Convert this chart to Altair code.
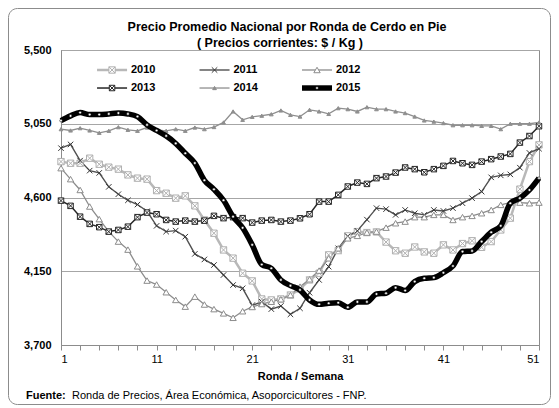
import altair as alt
import pandas as pd

weeks = list(range(1, 52))
years = ["2010", "2011", "2012", "2013", "2014", "2015"]

p2010 = [4819, 4809, 4809, 4840, 4803, 4785, 4773, 4738, 4718, 4712,
         4642, 4626, 4596, 4610, 4549, 4463, 4382, 4280, 4230, 4138,
         4091, 3981, 3975, 3981, 4005, 4042, 4097, 4138, 4250, 4276,
         4366, 4392, 4386, 4390, 4328, 4275, 4260, 4298, 4268, 4260,
         4311, 4280, 4319, 4336, 4296, 4331, 4402, 4474, 4651, 4819, 4921]
p2011 = [4901, 4924, 4825, 4764, 4750, 4665, 4620, 4583, 4557, 4516,
         4427, 4392, 4398, 4361, 4256, 4222, 4188, 4127, 4066, 4046,
         3942, 3964, 3919, 3938, 3887, 3924, 4019, 4097, 4178, 4290,
         4363, 4397, 4465, 4535, 4529, 4494, 4524, 4504, 4494, 4524,
         4518, 4535, 4565, 4596, 4636, 4723, 4735, 4741, 4782, 4872, 4898]
p2012 = [4779, 4712, 4646, 4545, 4468, 4392, 4331, 4282, 4180, 4093,
         4069, 4022, 3975, 3934, 3995, 3947, 3919, 3893, 3866, 3906,
         3932, 3950, 3964, 3979, 4005, 4056, 4101, 4154, 4229, 4290,
         4351, 4366, 4386, 4392, 4416, 4443, 4453, 4480, 4480, 4494,
         4494, 4463, 4480, 4488, 4504, 4524, 4555, 4569, 4569, 4565, 4569]
p2013 = [4581, 4549, 4483, 4439, 4419, 4392, 4402, 4422, 4480, 4508,
         4498, 4463, 4453, 4459, 4453, 4459, 4488, 4474, 4480, 4474,
         4447, 4459, 4463, 4453, 4459, 4473, 4498, 4575, 4575, 4616,
         4667, 4691, 4683, 4718, 4728, 4752, 4783, 4773, 4754, 4773,
         4793, 4823, 4809, 4799, 4819, 4834, 4850, 4866, 4935, 4975, 5035]
p2014 = [5017, 5009, 5023, 5009, 4995, 5007, 5029, 5013, 5007, 5027,
         5013, 5007, 5017, 5007, 5027, 5017, 5030, 5058, 5125, 5074,
         5092, 5099, 5108, 5131, 5104, 5094, 5135, 5125, 5110, 5145,
         5139, 5125, 5151, 5139, 5139, 5125, 5115, 5094, 5070, 5063,
         5054, 5041, 5041, 5041, 5037, 5037, 5017, 5050, 5050, 5050, 5058]
p2015 = [5069, 5098, 5118, 5106, 5106, 5110, 5115, 5110, 5094, 5043,
         5009, 4976, 4930, 4870, 4810, 4705, 4650, 4583, 4483, 4415,
         4311, 4191, 4168, 4097, 4062, 4036, 3975, 3948, 3955, 3958,
         3930, 3963, 3963, 4011, 4016, 4050, 4032, 4087, 4107, 4111,
         4141, 4182, 4270, 4274, 4331, 4388, 4427, 4565, 4596, 4646, 4718]

y_ticks = [3700, 4150, 4600, 5050, 5500]
x_label_weeks = [1, 11, 21, 31, 41, 51]

title_lines = ["Precio Promedio Nacional por Ronda de Cerdo en Pie",
               "( Precios corrientes: $ / Kg )"]
x_title = "Ronda / Semana"
source_bold = "Fuente:"
source_text = "Ronda de Precios, Área Económica, Asoporcicultores - FNP."

series = [p2010, p2011, p2012, p2013, p2014, p2015]
rows = []
for yr, vals in zip(years, series):
    for w, v in zip(weeks, vals):
        rows.append({"semana": w, "anio": yr, "precio": v})
df = pd.DataFrame(rows)
legend_df = pd.DataFrame({"anio": years, "idx": list(range(len(years)))})

FONT = "Liberation Sans"
line_colors = ["#b8b8b8", "#505050", "#8c8c8c", "#262626", "#8f8f8f", "#000000"]
line_widths = [2.5, 1.4, 1.3, 1.5, 1.3, 5.5]
sqx = "M-1,-1L1,-1L1,1L-1,1Z M-1,-1L1,1 M1,-1L-1,1"
xmark = "M-1,-1L1,1 M1,-1L-1,1"
shapes = [sqx, xmark, "triangle-up", sqx, "triangle-up", "circle"]
fills = ["#ffffff", "#505050", "#ffffff", "#ffffff", "#8f8f8f", "#ffffff"]
strokes = ["#b0b0b0", "#383838", "#8c8c8c", "#262626", "#8f8f8f", "#000000"]
sizes = [40, 30, 40, 30, 14, 7]

x_scale = alt.Scale(domain=[1, 51], nice=False, zero=False)
y_scale = alt.Scale(domain=[3700, 5500], nice=False, zero=False)
x_axis = alt.Axis(values=list(range(1, 52, 2)),
                  labelExpr="indexof([1,11,21,31,41,51], datum.value) >= 0 ? datum.label : ''",
                  title=x_title, grid=False, tickSize=5,
                  labelPadding=3, titlePadding=6)
y_axis = alt.Axis(values=y_ticks, format=",.0f", title=None,
                  ticks=False, tickSize=0, labelPadding=10,
                  labelFontWeight="bold")


def X(field):
    return alt.X(field, type="quantitative", scale=x_scale, axis=x_axis)


def Y(field):
    return alt.Y(field, type="quantitative", scale=y_scale, axis=y_axis)


color_enc = alt.Color("anio:N", scale=alt.Scale(domain=years, range=line_colors), legend=None)
sw_enc = alt.StrokeWidth("anio:N", scale=alt.Scale(type="ordinal", domain=years, range=line_widths), legend=None)


def point_enc(x, y):
    return dict(
        x=x, y=y,
        shape=alt.Shape("anio:N", scale=alt.Scale(domain=years, range=shapes), legend=None),
        fill=alt.Fill("anio:N", scale=alt.Scale(domain=years, range=fills), legend=None),
        stroke=alt.Stroke("anio:N", scale=alt.Scale(domain=years, range=strokes), legend=None),
        size=alt.Size("anio:N", scale=alt.Scale(type="ordinal", domain=years, range=sizes), legend=None),
    )


base = alt.Chart(df)
lines_a = base.transform_filter("datum.anio != '2015'").mark_line().encode(
    x=X("semana"), y=Y("precio"), color=color_enc, strokeWidth=sw_enc)
pts_a = base.transform_filter("datum.anio != '2015'").mark_point(
    filled=False, opacity=1, strokeWidth=1).encode(**point_enc(X("semana"), Y("precio")))
lines_b = base.transform_filter("datum.anio == '2015'").mark_line(
    interpolate="monotone").encode(x=X("semana"), y=Y("precio"), color=color_enc, strokeWidth=sw_enc)
pts_b = base.transform_filter("datum.anio == '2015'").mark_point(
    filled=False, opacity=1, strokeWidth=0.5).encode(**point_enc(X("semana"), Y("precio")))

# custom legend inside the plot (3 columns x 2 rows)
leg_base = alt.Chart(legend_df).transform_calculate(
    lx="4.77 + (datum.idx % 3) * 10.72",
).transform_calculate(
    lx2="datum.lx + 3.14",
    lmid="datum.lx + 1.57",
    ltx="datum.lx + 3.55",
    ly="5378 - floor(datum.idx / 3) * 110",
)
leg_lines = leg_base.mark_rule().encode(
    x=X("lx"), x2="lx2:Q", y=Y("ly"), color=color_enc, strokeWidth=sw_enc)
leg_pts_a = leg_base.transform_filter("datum.anio != '2015'").mark_point(
    filled=False, opacity=1, strokeWidth=1).encode(**point_enc(X("lmid"), Y("ly")))
leg_pts_b = leg_base.transform_filter("datum.anio == '2015'").mark_point(
    filled=False, opacity=1, strokeWidth=0.5).encode(**point_enc(X("lmid"), Y("ly")))
leg_text = leg_base.mark_text(align="left", baseline="middle", font=FONT,
                              fontSize=11, fontWeight="bold", color="#000").encode(
    x=X("ltx"), y=Y("ly"), text="anio:N")

one = alt.Data(values=[{"k": 1}])
frame = alt.Chart(one).mark_rect(fill="transparent", stroke="#8c8c8c",
                                 strokeWidth=1, cornerRadius=9).encode(
    x=alt.value(-52.5), x2=alt.value(489.5), y=alt.value(-41.5), y2=alt.value(354.5))
title1 = alt.Chart(one).mark_text(align="center", baseline="middle", font=FONT,
                                  fontSize=12.5, fontWeight="bold", color="#000").encode(
    x=alt.value(226), y=alt.value(-23), text=alt.value(title_lines[0]))
title2 = alt.Chart(one).mark_text(align="center", baseline="middle", font=FONT,
                                  fontSize=12.5, fontWeight="bold", color="#000").encode(
    x=alt.value(219), y=alt.value(-7.5), text=alt.value(title_lines[1]))
foot1 = alt.Chart(one).mark_text(align="left", baseline="middle", font=FONT,
                                 fontSize=11, fontWeight="bold", color="#000").encode(
    x=alt.value(-35), y=alt.value(345.5), text=alt.value(source_bold))
foot2 = alt.Chart(one).mark_text(align="left", baseline="middle", font=FONT,
                                 fontSize=11, color="#000").encode(
    x=alt.value(11), y=alt.value(345.5), text=alt.value(source_text))

chart = alt.layer(frame, lines_a, pts_a, lines_b, pts_b,
                  leg_lines, leg_pts_a, leg_pts_b, leg_text,
                  title1, title2, foot1, foot2).properties(
    width=478, height=295,
    autosize=alt.AutoSizeParams(type="none"),
    padding={"left": 53, "top": 42, "right": 12, "bottom": 61},
    background="white",
).configure_view(stroke="#8c8c8c", strokeWidth=1).configure_axis(
    labelFont=FONT, titleFont=FONT, labelFontSize=11, titleFontSize=11,
    labelColor="#000", titleColor="#000", titleFontWeight="bold",
    domainColor="#8c8c8c", tickColor="#8c8c8c", gridColor="#a6a6a6",
)

chart.save("out.html", embed_options={"renderer": "svg", "actions": False})
